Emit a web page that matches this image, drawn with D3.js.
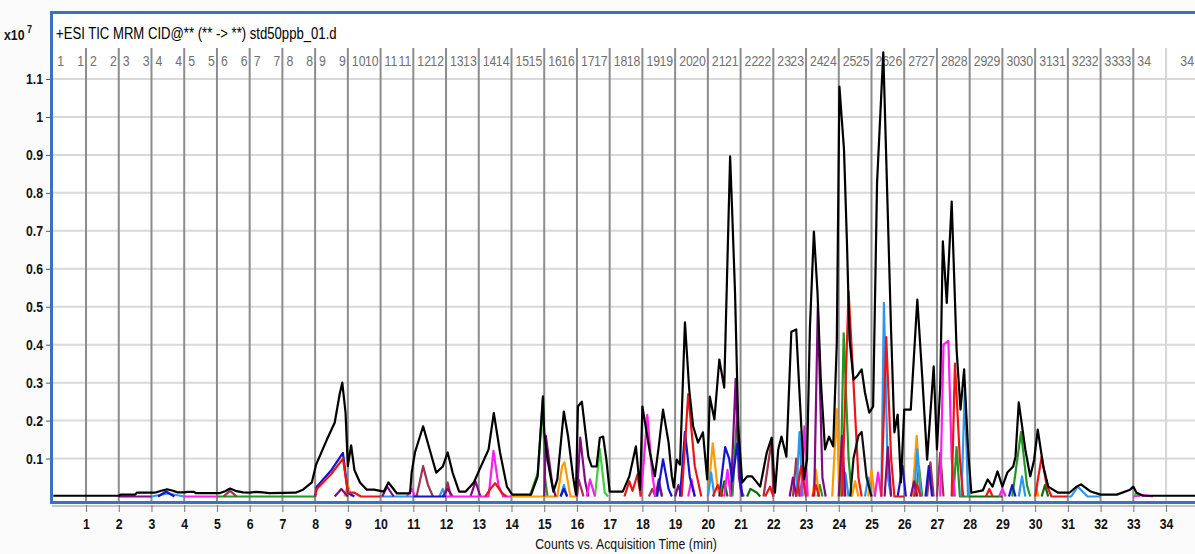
<!DOCTYPE html>
<html>
<head>
<meta charset="utf-8">
<script src="https://cdn.jsdelivr.net/npm/d3@7/dist/d3.min.js"></script>
<style>
  body { margin: 0; background: #fbfbfb; }
  svg { display: block; }
  text { font-family: "Liberation Sans", Arial, sans-serif; }
</style>
</head>
<body>
<svg id="chart" width="1195" height="554"></svg>
<script>
// x10^7 counts vs minutes
var yTicks = [0.1, 0.2, 0.3, 0.4, 0.5, 0.6, 0.7, 0.8, 0.9, 1, 1.1];
var xTicks = d3.range(1, 35);
var segments = d3.range(1, 35);   // time segments, segment k runs k-1 .. k

// total ion chromatogram
var tic = [[0,0.002],[2.0,0.002],[2.05,0.005],[2.5,0.005],[2.55,0.01],[3.1,0.01],[3.3,0.015],[3.48,0.019],[3.65,0.015],[3.8,0.011],[4.0,0.011],[4.1,0.012],[4.3,0.012],[4.35,0.009],[5.1,0.009],[5.25,0.014],[5.4,0.021],[5.6,0.014],[5.8,0.011],[6.0,0.01],[6.2,0.012],[6.4,0.011],[6.6,0.009],[7.4,0.01],[7.63,0.018],[7.9,0.037],[8.03,0.084],[8.36,0.15],[8.6,0.195],[8.75,0.27],[8.83,0.3],[8.93,0.22],[9.0,0.08],[9.1,0.135],[9.2,0.07],[9.37,0.037],[9.58,0.018],[9.8,0.018],[10.1,0.013],[10.24,0.037],[10.5,0.008],[10.9,0.008],[10.95,0.063],[11.05,0.116],[11.3,0.185],[11.5,0.124],[11.7,0.063],[11.9,0.079],[12.05,0.116],[12.2,0.063],[12.4,0.013],[12.6,0.013],[12.85,0.037],[13.05,0.076],[13.3,0.124],[13.46,0.22],[13.65,0.116],[13.86,0.026],[14.02,0.005],[14.6,0.005],[14.8,0.053],[14.96,0.264],[15.0,0.17],[15.1,0.097],[15.28,0.013],[15.4,0.045],[15.6,0.224],[15.73,0.158],[15.88,0.053],[15.97,0.005],[16.03,0.237],[16.15,0.25],[16.35,0.105],[16.45,0.079],[16.6,0.079],[16.7,0.155],[16.8,0.158],[16.9,0.097],[17.0,0.013],[17.4,0.013],[17.6,0.053],[17.8,0.132],[17.93,0.018],[18.0,0.237],[18.23,0.116],[18.38,0.053],[18.5,0.132],[18.63,0.229],[18.8,0.142],[18.9,0.053],[18.96,0.024],[19.05,0.097],[19.15,0.084],[19.3,0.459],[19.43,0.282],[19.55,0.185],[19.7,0.142],[19.85,0.169],[19.98,0.045],[20.06,0.263],[20.2,0.203],[20.35,0.361],[20.5,0.287],[20.68,0.896],[20.73,0.782],[20.83,0.538],[20.93,0.184],[21.05,0.037],[21.2,0.053],[21.35,0.053],[21.6,0.026],[21.8,0.116],[21.95,0.155],[22.05,0.01],[22.15,0.124],[22.25,0.158],[22.4,0.105],[22.55,0.434],[22.7,0.44],[22.8,0.274],[22.94,0.045],[23.03,0.097],[23.12,0.448],[23.24,0.698],[23.35,0.538],[23.45,0.308],[23.58,0.124],[23.7,0.158],[23.83,0.132],[23.94,0.405],[24.02,1.08],[24.16,0.914],[24.25,0.669],[24.33,0.414],[24.45,0.308],[24.55,0.316],[24.7,0.335],[24.8,0.274],[24.93,0.221],[25.05,0.237],[25.17,0.827],[25.36,1.17],[25.5,0.738],[25.6,0.432],[25.7,0.169],[25.8,0.216],[25.9,0.037],[26.0,0.229],[26.2,0.229],[26.4,0.519],[26.55,0.316],[26.7,0.097],[26.9,0.343],[27.0,0.124],[27.1,0.29],[27.18,0.672],[27.3,0.51],[27.45,0.777],[27.6,0.387],[27.72,0.229],[27.83,0.335],[27.95,0.124],[28.05,0.01],[28.4,0.016],[28.55,0.045],[28.7,0.026],[28.85,0.066],[29.0,0.026],[29.15,0.063],[29.33,0.079],[29.4,0.105],[29.5,0.248],[29.7,0.124],[29.85,0.053],[29.97,0.097],[30.08,0.176],[30.25,0.079],[30.4,0.026],[30.7,0.01],[31.05,0.01],[31.25,0.025],[31.4,0.032],[31.7,0.013],[32.0,0.005],[32.5,0.005],[32.9,0.018],[33.0,0.026],[33.1,0.01],[33.3,0.002],[34.9,0.002]];

// MRM traces: for each colour a list of peaks, each peak a list of [min, counts]
var redPeaks = [[[8.0,0],[8.05,0.02],[8.5,0.06],[8.85,0.1],[9.0,0.01],[9.2,0.01],[9.4,0],[10.0,0]],[[13.2,0],[13.35,0.02],[13.5,0.035],[13.7,0.01],[13.85,0]],[[17.45,0],[17.6,0.04],[17.7,0.015],[17.85,0.058],[17.95,0]],[[19.2,0],[19.4,0.27],[19.6,0.08],[19.8,0]],[[20.15,0],[20.3,0.03],[20.45,0]],[[21.75,0],[21.9,0.026],[22.0,0]],[[22.7,0],[22.85,0.08],[23.0,0]],[[23.2,0],[23.3,0.03],[23.4,0]],[[24.1,0],[24.3,0.54],[24.45,0.3],[24.6,0.05],[24.7,0]],[[25.3,0],[25.45,0.42],[25.6,0.1],[25.7,0],[26.0,0]],[[26.3,0],[26.4,0.03],[26.5,0]],[[27.45,0],[27.55,0.35],[27.7,0.1],[27.8,0]],[[28.5,0],[28.6,0.02],[28.7,0]],[[30.0,0],[30.2,0.105],[30.35,0.03],[30.5,0],[31.0,0]]];
var bluePeaks = [[[3.2,0],[3.45,0.013],[3.7,0]],[[8.0,0],[8.05,0.026],[8.5,0.07],[8.85,0.115],[9.0,0.01],[9.2,0]],[[11.0,0],[12.0,0]],[[15.5,0],[15.6,0.02],[15.7,0]],[[18.45,0],[18.63,0.098],[18.8,0.02],[18.9,0]],[[19.15,0],[19.3,0.17],[19.45,0.05],[19.6,0]],[[20.35,0],[20.53,0.13],[20.65,0.1],[20.75,0.04],[20.9,0.14],[21.05,0]],[[25.8,0],[25.95,0.08],[26.05,0]],[[26.65,0],[26.75,0.08],[26.85,0]],[[29.2,0],[29.3,0.03],[29.4,0]]];
var greenPeaks = [[[5.0,0],[8.0,0]],[[14.55,0],[14.8,0.06],[14.96,0.255],[15.02,0.05],[15.1,0]],[[18.4,0],[18.5,0.03],[18.6,0]],[[20.75,0],[20.9,0.23],[21.0,0.02],[21.1,0]],[[22.8,0],[22.9,0.05],[23.0,0]],[[23.35,0],[23.42,0.03],[23.5,0]],[[24.05,0],[24.15,0.43],[24.3,0.1],[24.4,0]],[[26.35,0],[26.45,0.08],[26.55,0]],[[27.5,0],[27.6,0.13],[27.7,0],[28.0,0]],[[29.3,0],[29.57,0.17],[29.75,0.03],[29.85,0]]];
var lightGreenPeaks = [[[16.55,0],[16.7,0.125],[16.85,0.01],[16.95,0]],[[33.0,0],[33.1,0.01],[33.2,0]]];
var darkGreenPeaks = [[[20.4,0],[20.5,0.04],[20.6,0]],[[21.2,0],[21.3,0.02],[21.5,0.01],[21.6,0]],[[28.0,0],[29.0,0]],[[30.2,0],[30.3,0.03],[30.4,0]]];
var magentaPeaks = [[[4.0,0],[5.0,0]],[[10.8,0],[10.95,0.02],[11.05,0]],[[12.0,0],[13.3,0],[13.45,0.12],[13.6,0.03],[13.75,0],[14.0,0]],[[16.3,0],[16.4,0.045],[16.55,0]],[[17.95,0],[18.05,0.1],[18.15,0.215],[18.3,0.06],[18.4,0]],[[19.4,0],[19.5,0.045],[19.6,0]],[[20.5,0],[20.6,0.07],[20.7,0]],[[22.85,0],[22.95,0.185],[23.05,0]],[[25.1,0],[25.2,0.063],[25.3,0]],[[27.1,0],[27.2,0.4],[27.35,0.41],[27.45,0.1],[27.55,0]],[[28.9,0],[29.0,0.02],[29.1,0]],[[33.0,0],[33.3,0.004],[33.6,0]]];
var orangePeaks = [[[8.9,0],[9.0,0.03],[9.1,0]],[[14.0,0],[15.4,0],[15.55,0.08],[15.62,0.09],[15.8,0],[16.0,0]],[[20.0,0],[20.15,0.14],[20.3,0.02],[20.4,0]],[[23.2,0],[23.3,0.07],[23.4,0]],[[23.8,0],[23.94,0.23],[24.02,0]],[[24.4,0],[24.5,0.04],[24.6,0]],[[24.9,0],[25.0,0.07],[25.1,0]],[[26.25,0],[26.38,0.16],[26.5,0]],[[30.0,0],[30.05,0.02],[30.1,0]]];
var lightBluePeaks = [[[3.0,0],[3.5,0.008],[4.0,0]],[[10.0,0],[11.0,0]],[[11.8,0],[11.9,0.02],[12.0,0]],[[15.5,0],[15.6,0.03],[15.7,0]],[[20.0,0],[20.1,0.063],[20.2,0]],[[22.7,0],[22.8,0.17],[22.9,0]],[[24.15,0],[24.2,0.063],[24.3,0]],[[24.8,0],[24.9,0.05],[25.0,0]],[[25.3,0],[25.38,0.51],[25.5,0.05],[25.6,0]],[[26.3,0],[26.4,0.124],[26.5,0]],[[27.75,0],[27.85,0.28],[27.95,0]],[[29.5,0],[29.6,0.053],[29.7,0]],[[31.0,0],[31.1,0],[31.3,0.026],[31.6,0],[32.0,0]]];
var purplePeaks = [[[2.0,0],[3.0,0]],[[8.6,0],[8.8,0.02],[9.0,0]],[[10.05,0],[10.2,0.026],[10.4,0]],[[11.9,0],[12.05,0.02],[12.2,0]],[[12.75,0],[12.9,0.04],[13.05,0]],[[15.0,0],[15.05,0.16],[15.25,0.03],[15.35,0]],[[16.0,0],[16.1,0.155],[16.25,0.04],[16.35,0]],[[18.4,0],[18.5,0.045],[18.6,0]],[[19.0,0],[19.1,0.03],[19.2,0]],[[20.7,0],[20.85,0.31],[20.95,0.05],[21.05,0]],[[22.5,0],[22.6,0.05],[22.7,0]],[[23.25,0],[23.36,0.5],[23.5,0.05],[23.6,0]],[[24.0,0],[24.1,0.16],[24.2,0]],[[25.4,0],[25.5,0.13],[25.6,0]],[[26.2,0],[26.3,0.04],[26.4,0]]];
var brownPeaks = [[[5.2,0],[5.4,0.015],[5.6,0]],[[11.1,0],[11.3,0.08],[11.45,0.03],[11.6,0]],[[11.95,0],[12.05,0.037],[12.15,0]],[[16.0,0],[16.05,0.045],[16.2,0]],[[18.2,0],[18.3,0.02],[18.4,0]],[[21.7,0],[21.95,0.15],[22.0,0]],[[22.6,0],[22.7,0.1],[22.8,0]],[[26.7,0],[26.8,0.09],[26.9,0]],[[27.0,0],[27.1,0.115],[27.2,0]]];
var darkPeaks = [[[24.35,0],[24.45,0.1],[24.6,0.16],[24.7,0.17],[24.85,0.05],[25.0,0]]];

var traces = [
  { peaks: greenPeaks, color: "#1f9a1f" },
  { peaks: lightGreenPeaks, color: "#3fcf3f" },
  { peaks: darkGreenPeaks, color: "#0b6e0b" },
  { peaks: orangePeaks, color: "#ff9a00" },
  { peaks: brownPeaks, color: "#a3304e" },
  { peaks: lightBluePeaks, color: "#2c97ee" },
  { peaks: purplePeaks, color: "#7f0a82" },
  { peaks: magentaPeaks, color: "#ff1cf0" },
  { peaks: bluePeaks, color: "#1414c8" },
  { peaks: redPeaks, color: "#ee1414" },
  { peaks: darkPeaks, color: "#111111" }
];

(function () {
  var narrow = 0.82;   // squeeze Liberation Sans to look like Arial Narrow
  var svg = d3.select("#chart");
  var x = d3.scaleLinear().domain([0, 34.9]).range([53.3, 1195.5]);
  var y = d3.scaleLinear().domain([0, 1.1]).range([496.5, 79]);
  var plotTop = 48, plotBottom = 502;

  function squeeze(sel, px, py) {
    sel.attr("transform", function (d, i) {
      return "translate(" + px(d, i) + "," + py(d, i) + ") scale(" + narrow + ",1)";
    });
  }

  svg.append("rect").attr("x", 52).attr("y", 13).attr("width", 1150).attr("height", 489).attr("fill", "#fff");

  svg.append("clipPath").attr("id", "plot")
    .append("rect").attr("x", 53).attr("y", plotTop).attr("width", 1150).attr("height", plotBottom - plotTop);

  // grid
  svg.append("g").selectAll("line").data(yTicks).join("line")
    .attr("x1", 53).attr("x2", 1195)
    .attr("y1", d => y(d)).attr("y2", d => y(d))
    .attr("stroke", "#d9d9d9").attr("stroke-width", 2);

  svg.append("g").selectAll("line").data(segments).join("line")
    .attr("x1", d => x(d)).attr("x2", d => x(d))
    .attr("y1", plotTop).attr("y2", plotBottom)
    .attr("stroke", d => d === 34 ? "#d6d6d6" : "#8c8c8c").attr("stroke-width", 2);

  // segment labels along the top
  var segG = svg.append("g").attr("fill", "#707070").attr("font-size", 15);
  segG.selectAll("text.l").data(segments).join("text").attr("class", "l")
    .text(d => d).call(squeeze, d => x(d - 1) + 4, () => 66);
  segG.selectAll("text.r").data(segments).join("text").attr("class", "r")
    .attr("text-anchor", "end").text(d => d)
    .call(squeeze, d => d === 34 ? 1194 : x(d) - 2, () => 66);

  // traces
  var line = d3.line().x(d => x(d[0])).y(d => y(d[1]));
  var plot = svg.append("g").attr("clip-path", "url(#plot)").attr("fill", "none")
    .attr("stroke-linejoin", "round");
  traces.forEach(function (tr) {
    plot.append("g").attr("stroke", tr.color).attr("stroke-width", 2.2)
      .selectAll("path").data(tr.peaks).join("path").attr("d", line);
  });
  plot.append("path").attr("d", line(tic)).attr("stroke", "#000").attr("stroke-width", 2.2);

  // frame
  svg.append("line").attr("x1", 52).attr("x2", 1200).attr("y1", 506).attr("y2", 506)
    .attr("stroke", "#c4c4c4").attr("stroke-width", 2);
  svg.append("path").attr("d", "M1200,12.5H51.5V502.5H1200")
    .attr("fill", "none").attr("stroke", "#3a72c2").attr("stroke-width", 3);

  // axes
  var yAxis = svg.append("g").attr("transform", "translate(50,0)")
    .call(d3.axisLeft(y).tickValues(yTicks).tickSize(4).tickPadding(4).tickFormat(d3.format("~g")));
  yAxis.select(".domain").remove();
  yAxis.selectAll("line").attr("stroke", "#555");
  yAxis.selectAll("text").attr("font-size", 15).attr("font-weight", "bold").attr("fill", "#111")
    .attr("x", 0).call(squeeze, () => -7, () => 0);

  var xAxis = svg.append("g").attr("transform", "translate(0,505)")
    .call(d3.axisBottom(x).tickValues(xTicks).tickSize(7).tickPadding(6));
  xAxis.select(".domain").remove();
  xAxis.selectAll("line").attr("stroke", "#777");
  xAxis.selectAll("text").attr("font-size", 15).attr("font-weight", "bold").attr("fill", "#111")
    .attr("y", 0).call(squeeze, () => 0, () => 13);

  svg.append("text").attr("font-size", 15).attr("fill", "#111").attr("text-anchor", "middle")
    .text("Counts vs. Acquisition Time (min)")
    .call(squeeze, () => 626, () => 549);

  svg.append("text").attr("font-size", 16).attr("fill", "#000")
    .text("+ESI TIC MRM CID@** (** -> **) std50ppb_01.d")
    .call(squeeze, () => 56, () => 39);

  var mag = svg.append("text").attr("font-size", 15).attr("font-weight", "bold").attr("fill", "#111");
  mag.append("tspan").text("x10");
  mag.append("tspan").attr("dx", 3).attr("dy", -7).attr("font-size", 11).text("7");
  mag.call(squeeze, () => 4, () => 40);
})();
</script>
</body>
</html>
